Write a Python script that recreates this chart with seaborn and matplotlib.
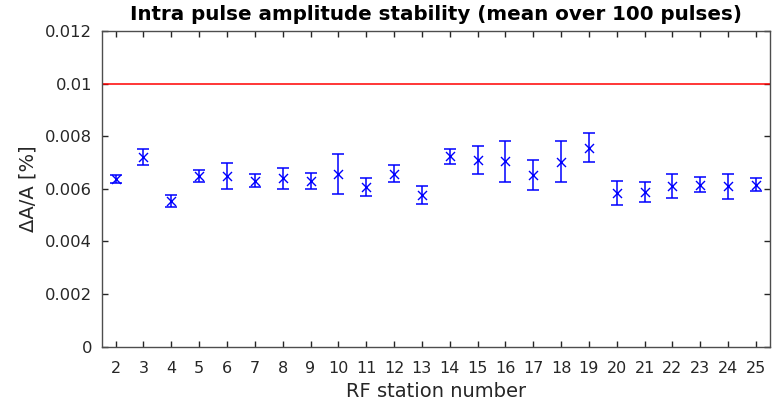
import numpy as np
import pandas as pd
import matplotlib
matplotlib.use("Agg")
import matplotlib.pyplot as plt
import seaborn as sns

# RF stations and their intra-pulse amplitude stability (mean and spread over 100 pulses)
stations = list(range(2, 26))
mean_dA = [0.00638, 0.00721, 0.00553, 0.00648, 0.00650, 0.00631, 0.00640, 0.00631,
           0.00657, 0.00608, 0.00657, 0.00577, 0.00724, 0.00710, 0.00705, 0.00652,
           0.00703, 0.00757, 0.00585, 0.00588, 0.00611, 0.00616, 0.00609, 0.00615]
err_dA = [0.00015, 0.00030, 0.00023, 0.00023, 0.00050, 0.00026, 0.00040, 0.00030,
          0.00077, 0.00035, 0.00032, 0.00034, 0.00028, 0.00053, 0.00078, 0.00056,
          0.00078, 0.00055, 0.00046, 0.00037, 0.00046, 0.00030, 0.00048, 0.00025]
limit = 0.01
y_ticks = [0, 0.002, 0.004, 0.006, 0.008, 0.01, 0.012]
y_tick_labels = ["0", "0.002", "0.004", "0.006", "0.008", "0.01", "0.012"]

df = pd.DataFrame({"station": stations, "dA": mean_dA, "err": err_dA})

sns.set_style("ticks")
ink = "#262626"
plt.rcParams.update({
    "font.family": ["DejaVu Sans"],
    "xtick.direction": "in", "ytick.direction": "in",
    "xtick.top": True, "ytick.right": True,
    "xtick.bottom": True, "ytick.left": True,
    "xtick.major.size": 4, "ytick.major.size": 4,
    "xtick.major.width": 1.0, "ytick.major.width": 1.0,
    "xtick.color": ink, "ytick.color": ink,
})

fig = plt.figure(figsize=(7.8, 4.04), dpi=100)
ax = fig.add_axes([0.1304, 0.1423, 0.8566, 0.7807])

blue = (0, 0, 1)

ax.axhline(limit, color="red", lw=1.1, zorder=1)
ax.errorbar(df["station"], df["dA"], yerr=df["err"], fmt="none",
            ecolor=blue, elinewidth=1.1, capsize=4.4, capthick=1.1, zorder=2)
sns.scatterplot(data=df, x="station", y="dA", marker="x", color=blue,
                s=42, linewidth=1.0, ax=ax, zorder=3, legend=False)

ax.set_xlim(1.5, 25.5)
ax.set_ylim(0, 0.012)
ax.set_xticks(stations)
ax.set_xticklabels([str(s) for s in stations])
ax.set_yticks(y_ticks)
ax.set_yticklabels(y_tick_labels)

for side in ["left", "right", "top", "bottom"]:
    ax.spines[side].set_visible(True)
    ax.spines[side].set_color("#4d4d4d")
    ax.spines[side].set_linewidth(1.0)

ax.tick_params(axis="both", which="major", direction="in", length=4, width=1.0,
               color=ink, labelcolor=ink,
               bottom=True, left=True, top=True, right=True)
ax.tick_params(axis="x", pad=10.5, labelsize=11.5)
ax.tick_params(axis="y", pad=7, labelsize=11.8)

ax.set_xlabel("RF station number", fontsize=14, color=ink, labelpad=4)
ax.set_ylabel("\u0394A/A [%]", fontsize=14, color=ink, labelpad=5)
ax.set_title("Intra pulse amplitude stability (mean over 100 pulses)",
             fontsize=14.3, fontweight="bold", color="black", pad=8)

fig.savefig("out.png", dpi=100)
